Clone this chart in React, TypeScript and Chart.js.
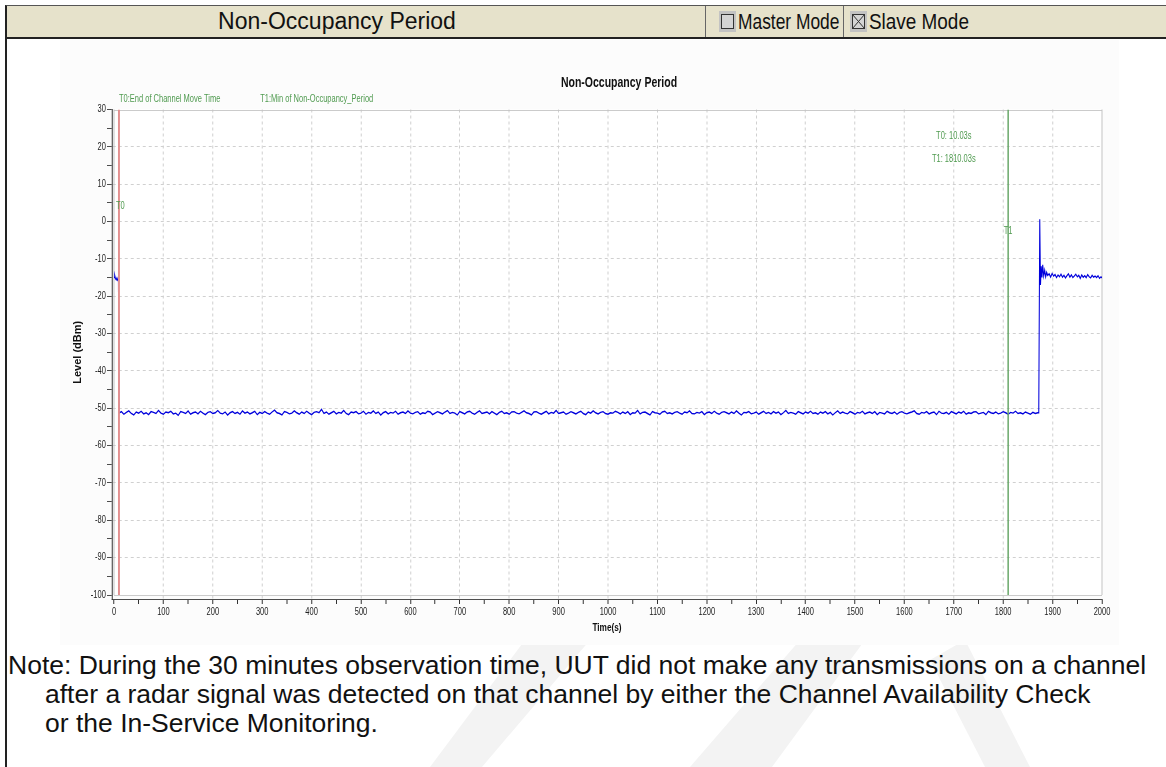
import React, { useEffect, useRef } from "react";
import { Chart, registerables } from "chart.js";

Chart.register(...registerables);

// ---------- data ----------
const chartTitle = "Non-Occupancy Period";
const xAxisTitle = "Time(s)";
const yAxisTitle = "Level (dBm)";

const xRange = [0, 2000];
const yRange = [-100, 30];

// trace before T0
const preTimes = [0, 1.5, 3, 4.5, 6, 7.5, 9];
const preLevels = [-15.0, -14.4, -15.3, -15.6, -15.1, -15.7, -15.4];

// noise floor after the channel move
const floorTimes = [
  10, 15, 20, 25, 30, 35, 40, 45, 50, 55, 60, 65, 70, 75, 80, 85, 90, 95, 100, 105,
  110, 115, 120, 125, 130, 135, 140, 145, 150, 155, 160, 165, 170, 175, 180, 185, 190, 195, 200, 205,
  210, 215, 220, 225, 230, 235, 240, 245, 250, 255, 260, 265, 270, 275, 280, 285, 290, 295, 300, 305,
  310, 315, 320, 325, 330, 335, 340, 345, 350, 355, 360, 365, 370, 375, 380, 385, 390, 395, 400, 405,
  410, 415, 420, 425, 430, 435, 440, 445, 450, 455, 460, 465, 470, 475, 480, 485, 490, 495, 500, 505,
  510, 515, 520, 525, 530, 535, 540, 545, 550, 555, 560, 565, 570, 575, 580, 585, 590, 595, 600, 605,
  610, 615, 620, 625, 630, 635, 640, 645, 650, 655, 660, 665, 670, 675, 680, 685, 690, 695, 700, 705,
  710, 715, 720, 725, 730, 735, 740, 745, 750, 755, 760, 765, 770, 775, 780, 785, 790, 795, 800, 805,
  810, 815, 820, 825, 830, 835, 840, 845, 850, 855, 860, 865, 870, 875, 880, 885, 890, 895, 900, 905,
  910, 915, 920, 925, 930, 935, 940, 945, 950, 955, 960, 965, 970, 975, 980, 985, 990, 995, 1000, 1005,
  1010, 1015, 1020, 1025, 1030, 1035, 1040, 1045, 1050, 1055, 1060, 1065, 1070, 1075, 1080, 1085, 1090, 1095, 1100, 1105,
  1110, 1115, 1120, 1125, 1130, 1135, 1140, 1145, 1150, 1155, 1160, 1165, 1170, 1175, 1180, 1185, 1190, 1195, 1200, 1205,
  1210, 1215, 1220, 1225, 1230, 1235, 1240, 1245, 1250, 1255, 1260, 1265, 1270, 1275, 1280, 1285, 1290, 1295, 1300, 1305,
  1310, 1315, 1320, 1325, 1330, 1335, 1340, 1345, 1350, 1355, 1360, 1365, 1370, 1375, 1380, 1385, 1390, 1395, 1400, 1405,
  1410, 1415, 1420, 1425, 1430, 1435, 1440, 1445, 1450, 1455, 1460, 1465, 1470, 1475, 1480, 1485, 1490, 1495, 1500, 1505,
  1510, 1515, 1520, 1525, 1530, 1535, 1540, 1545, 1550, 1555, 1560, 1565, 1570, 1575, 1580, 1585, 1590, 1595, 1600, 1605,
  1610, 1615, 1620, 1625, 1630, 1635, 1640, 1645, 1650, 1655, 1660, 1665, 1670, 1675, 1680, 1685, 1690, 1695, 1700, 1705,
  1710, 1715, 1720, 1725, 1730, 1735, 1740, 1745, 1750, 1755, 1760, 1765, 1770, 1775, 1780, 1785, 1790, 1795, 1800, 1805,
  1810, 1815, 1820, 1825, 1830, 1835, 1840, 1845, 1850, 1855, 1860, 1865, 1870,
];
const floorLevels = [
  -51.3, -50.9, -51.6, -51.1, -50.7, -51.4, -51.8, -51.0, -51.3, -50.8, -51.5, -51.2, -51.7, -50.9, -51.1, -51.4, -50.6, -51.3, -51.6, -51.0,
  -51.2, -50.8, -51.5, -51.3, -51.9, -50.9, -51.1, -51.4, -50.7, -51.6, -51.2, -51.0, -51.5, -50.8, -51.3, -51.7, -51.1, -50.9, -51.4, -51.2,
  -50.6, -51.3, -51.5, -51.0, -51.8, -51.2, -50.9, -51.4, -51.1, -51.6, -50.7, -51.3, -51.0, -51.5, -51.2, -50.8, -51.7, -51.1, -51.4, -50.9,
  -51.3, -51.6, -51.0, -50.5, -51.2, -51.4, -51.8, -50.9, -51.1, -51.5, -51.3, -50.7, -51.2, -51.6, -51.0, -51.4, -50.8, -51.3, -51.7, -51.1,
  -50.9, -51.2, -50.3, -51.4, -51.0, -51.6, -51.2, -50.8, -51.5, -51.1, -51.3, -50.6, -51.4, -51.7, -51.0, -51.2, -50.9, -51.5, -51.3, -50.8,
  -51.6, -51.1, -51.3, -50.7, -51.4, -51.0, -51.8, -51.2, -50.9, -51.5, -51.1, -51.3, -50.8, -51.6, -51.2, -51.0, -51.4, -50.7, -51.3, -51.5,
  -51.1, -50.9, -51.6, -51.2, -51.4, -50.8, -51.0, -51.7, -51.3, -50.9, -51.2, -51.5, -51.0, -50.6, -51.4, -51.1, -51.3, -51.8, -50.9, -51.2,
  -51.5, -51.0, -50.8, -51.3, -51.6, -51.1, -50.7, -51.4, -51.2, -51.0, -51.5, -50.9, -51.3, -51.7, -51.1, -50.8, -51.4, -51.2, -51.6, -51.0,
  -50.9, -51.3, -51.5, -51.1, -50.7, -51.2, -51.4, -51.8, -51.0, -50.9, -51.3, -51.6, -51.2, -50.8, -51.5, -51.1, -51.3, -50.6, -51.4, -51.2,
  -51.0, -51.6, -51.3, -50.9, -51.2, -51.5, -51.1, -50.8, -51.4, -51.7, -51.0, -51.3, -50.7, -51.2, -51.5, -51.1, -50.9, -51.4, -51.6, -51.2,
  -51.3, -50.8, -51.1, -51.5, -51.0, -51.4, -50.9, -51.7, -51.2, -51.3, -50.6, -51.5, -51.1, -51.0, -51.4, -51.8, -50.9, -51.2, -51.3, -51.6,
  -51.0, -50.8, -51.4, -51.2, -51.5, -51.1, -50.9, -51.3, -51.6, -51.0, -51.2, -50.7, -51.4, -51.5, -51.1, -51.3, -50.9, -51.7, -51.2, -51.0,
  -51.4, -50.8, -51.3, -51.6, -51.1, -50.9, -51.2, -51.5, -51.0, -51.4, -50.7, -51.3, -51.8, -51.1, -51.2, -50.9, -51.5, -51.3, -51.0, -51.6,
  -51.2, -50.8, -51.4, -51.1, -51.5, -50.9, -51.3, -51.0, -51.7, -51.2, -50.6, -51.4, -51.1, -51.3, -51.6, -50.9, -51.2, -51.5, -51.0, -51.3,
  -50.8, -51.4, -51.2, -51.6, -51.0, -51.3, -50.9, -51.5, -51.1, -51.8, -51.2, -50.7, -51.4, -51.0, -51.3, -51.5, -50.9, -51.2, -51.6, -51.1,
  -51.3, -50.8, -51.5, -51.2, -51.0, -51.4, -50.9, -51.7, -51.1, -51.3, -51.5, -50.8, -51.2, -51.4, -51.0, -51.6, -51.1, -50.9, -51.3, -51.5,
  -51.2, -51.0, -50.7, -51.4, -51.6, -51.1, -51.3, -50.9, -51.5, -51.2, -51.0, -51.7, -50.8, -51.3, -51.4, -51.1, -51.6, -50.9, -51.2, -51.5,
  -51.0, -51.3, -50.8, -51.6, -51.2, -51.4, -51.0, -50.9, -51.5, -51.3, -51.1, -51.7, -50.8, -51.2, -51.4, -51.0, -51.5, -51.3, -50.9, -51.2,
  -51.6, -51.1, -51.3, -50.8, -51.4, -51.2, -51.5, -51.0, -51.3, -51.6, -51.1, -51.4, -51.2,
];

// transmission resumes after the non-occupancy period
const postTimes = [
  1872, 1874, 1875.5, 1877, 1878.5, 1880, 1882, 1884, 1886, 1888, 1890, 1893, 1896, 1899, 1902, 1905,
  1908, 1911, 1914, 1917, 1920, 1923, 1926, 1929, 1932, 1935, 1938, 1941, 1944, 1947, 1950, 1953,
  1956, 1959, 1962, 1965, 1968, 1971, 1974, 1977, 1980, 1983, 1986, 1989, 1992, 1995, 1998, 2000,
];
const postLevels = [
  -51.2, 0.6, -17.0, -12.0, -15.0, -11.6, -14.6, -13.0, -14.8, -13.6, -14.4, -14.0, -14.9, -13.9, -14.6, -14.2,
  -15.0, -14.3, -14.8, -14.1, -14.9, -14.4, -15.1, -14.5, -14.0, -14.9, -14.3, -15.0, -14.6, -14.1, -14.8, -14.4,
  -15.2, -14.3, -14.9, -14.5, -15.0, -14.2, -14.8, -15.1, -14.4, -14.9, -14.6, -15.0, -14.5, -15.2, -14.8, -15.1,
];

// markers
const markerTimes = [10.03, 1810.03];
const markerNames = ["T0", "T1"];
const markerLabelLevels = [4, -2.5];
const markerDescriptions = ["T0:End of Channel Move Time", "T1:Min of Non-Occupancy_Period"];
const markerReadouts = ["T0: 10.03s", "T1: 1810.03s"];
const readoutTime = 1700;
const readoutLevels = [22.9, 16.6];

const noteLines = [
  "Note: During the 30 minutes observation time, UUT did not make any transmissions on a channel",
  "after a radar signal was detected on that channel by either the Channel Availability Check",
  "or the In-Service Monitoring.",
];

// ---------- styling / geometry ----------
const CHART_FONT = '"Liberation Sans", Arial, sans-serif';
const DOC_FONT = '"Liberation Sans", Arial, sans-serif';
const TRACE_COLOR = "#0000dc";
const MARKER_COLORS = ["#e28f8f", "#6aa86a"];
const LABEL_GREEN = "#4f9a4f";
const GRID_COLOR = "#d0d0d0";
const FRAME_COLOR = "#c4c4c4";
const AXIS_COLOR = "#333333";
const SQUEEZE = 0.75; // the source chart image is horizontally condensed
const CANVAS_W = 1412;
const CANVAS_H = 605;
// axes sit slightly detached from the plot frame, as in the source
const X_MIN_VIEW = -4.05;
const Y_MIN_VIEW = -101.07;

function buildTrace() {
  const times = [...preTimes, ...floorTimes, ...postTimes];
  const levels = [...preLevels, ...floorLevels, ...postLevels];
  return times.map((t, i) => ({ x: t, y: levels[i] }));
}

const annotationPlugin = {
  id: "nopAnnotations",
  beforeDraw(chart: any) {
    const { ctx, scales } = chart;
    // condense the whole drawing horizontally (vector level, text stays crisp)
    ctx.save();
    ctx.scale(SQUEEZE, 1);
    const x0 = scales.x.getPixelForValue(xRange[0]);
    const x1 = scales.x.getPixelForValue(xRange[1]);
    const y0 = scales.y.getPixelForValue(yRange[1]);
    const y1 = scales.y.getPixelForValue(yRange[0]);
    ctx.save();
    ctx.fillStyle = "#fcfcfc";
    ctx.fillRect(0, 0, chart.width, chart.height);
    ctx.fillStyle = "#ffffff";
    ctx.fillRect(x0, y0, x1 - x0, y1 - y0);
    ctx.restore();
  },
  beforeDatasetsDraw(chart: any) {
    const { ctx, scales } = chart;
    const x0 = scales.x.getPixelForValue(xRange[0]);
    const x1 = scales.x.getPixelForValue(xRange[1]);
    const y0 = scales.y.getPixelForValue(yRange[1]);
    const y1 = scales.y.getPixelForValue(yRange[0]);
    ctx.save();
    ctx.strokeStyle = FRAME_COLOR;
    ctx.lineWidth = 1;
    ctx.beginPath();
    ctx.moveTo(x0, Math.round(y0) + 0.5);
    ctx.lineTo(x1, Math.round(y0) + 0.5);
    ctx.moveTo(x0, Math.round(y1) + 0.5);
    ctx.lineTo(x1, Math.round(y1) + 0.5);
    ctx.stroke();
    ctx.lineWidth = 1 / SQUEEZE;
    ctx.beginPath();
    ctx.moveTo(x0, y0);
    ctx.lineTo(x0, y1);
    ctx.moveTo(x1, y0);
    ctx.lineTo(x1, y1);
    ctx.stroke();
    ctx.restore();
  },
  afterDatasetsDraw(chart: any) {
    const { ctx, chartArea, scales } = chart;
    const xs = scales.x;
    const ys = scales.y;
    const plotTop = ys.getPixelForValue(yRange[1]);
    const plotBottom = ys.getPixelForValue(yRange[0]);
    ctx.save();
    // chart title
    ctx.fillStyle = "#111";
    ctx.textAlign = "center";
    ctx.textBaseline = "middle";
    ctx.font = `bold 14px ${CHART_FONT}`;
    ctx.fillText(chartTitle, (chartArea.left + chartArea.right) / 2 + 16, plotTop - 26);

    // marker texts
    ctx.fillStyle = LABEL_GREEN;
    ctx.font = `10px ${CHART_FONT}`;
    ctx.textAlign = "left";
    ctx.fillText(markerDescriptions[0], xs.getPixelForValue(markerTimes[0]), plotTop - 10);
    ctx.fillText(markerDescriptions[1], xs.getPixelForValue(xRange[0]) + 195, plotTop - 10);
    ctx.fillText(markerNames[0], xs.getPixelForValue(markerTimes[0]) - 4, ys.getPixelForValue(markerLabelLevels[0]));
    ctx.textAlign = "center";
    ctx.fillText(markerNames[1], xs.getPixelForValue(markerTimes[1]), ys.getPixelForValue(markerLabelLevels[1]));
    ctx.fillText(markerReadouts[0], xs.getPixelForValue(readoutTime), ys.getPixelForValue(readoutLevels[0]));
    ctx.fillText(markerReadouts[1], xs.getPixelForValue(readoutTime), ys.getPixelForValue(readoutLevels[1]));
    ctx.restore();

    // y axis title (kept upright-proportioned despite the horizontal squeeze)
    ctx.save();
    ctx.fillStyle = "#111";
    ctx.font = `bold 11px ${CHART_FONT}`;
    ctx.textAlign = "center";
    ctx.textBaseline = "middle";
    ctx.translate(24, (plotTop + plotBottom) / 2);
    ctx.scale(1 / SQUEEZE, 1);
    ctx.rotate(-Math.PI / 2);
    ctx.fillText(yAxisTitle, 0, 0);
    ctx.restore();
  },
  afterDraw(chart: any) {
    chart.ctx.restore();
  },
};

function NopChart() {
  const ref = useRef<HTMLCanvasElement | null>(null);
  useEffect(() => {
    if (!ref.current) return;
    const markerSets = markerTimes.map((t, i) => ({
      label: markerNames[i],
      data: [
        { x: t, y: yRange[0] },
        { x: t, y: yRange[1] },
      ],
      borderColor: MARKER_COLORS[i],
      borderWidth: i === 0 ? 2.6 : 2,
      pointRadius: 0,
      tension: 0,
    }));
    const chart = new Chart(ref.current, {
      type: "line",
      data: {
        datasets: [
          ...markerSets,
          {
            label: "Level",
            data: buildTrace(),
            borderColor: TRACE_COLOR,
            borderWidth: 1.4,
            pointRadius: 0,
            tension: 0,
          },
        ],
      },
      options: {
        animation: false,
        responsive: true,
        maintainAspectRatio: false,
        layout: { padding: { left: 0, right: CANVAS_W - (1102 - 60) / SQUEEZE, top: 69.5, bottom: 5 } },
        plugins: {
          legend: { display: false },
          tooltip: { enabled: false },
          title: { display: false },
        },
        scales: {
          x: {
            type: "linear",
            min: X_MIN_VIEW,
            max: xRange[1],
            afterFit: (s: any) => {
              s.height = 41;
            },
            ticks: {
              stepSize: 50,
              includeBounds: false,
              autoSkip: false,
              maxRotation: 0,
              padding: 2,
              color: "#222",
              font: { family: CHART_FONT, size: 10 },
              callback: (v: any) => (Number(v) % 100 === 0 ? String(v) : ""),
            },
            grid: {
              color: (c: any) =>
                c.tick && c.tick.value % 100 === 0 && c.tick.value > xRange[0] && c.tick.value < xRange[1]
                  ? GRID_COLOR
                  : "rgba(0,0,0,0)",
              lineWidth: 1 / SQUEEZE,
              tickColor: (c: any) => (c.tick && c.tick.value % 50 === 0 ? AXIS_COLOR : "rgba(0,0,0,0)"),
              tickWidth: 1 / SQUEEZE,
              tickLength: 5,
              tickBorderDash: [],
            },
            border: { display: true, color: AXIS_COLOR, width: 1, dash: [3, 3] },
            title: {
              display: true,
              text: xAxisTitle,
              color: "#111",
              font: { family: CHART_FONT, size: 11, weight: "bold" },
              padding: { top: 0, bottom: 5 },
            },
          },
          y: {
            type: "linear",
            min: Y_MIN_VIEW,
            max: yRange[1],
            afterFit: (s: any) => {
              s.width = (112 - 60) / SQUEEZE;
            },
            ticks: {
              stepSize: 5,
              includeBounds: false,
              autoSkip: false,
              padding: 1.5,
              color: "#222",
              font: { family: CHART_FONT, size: 10 },
              callback: (v: any) => (Number(v) % 10 === 0 ? String(v) : ""),
            },
            grid: {
              color: (c: any) =>
                c.tick && c.tick.value % 10 === 0 && c.tick.value > yRange[0] && c.tick.value < yRange[1]
                  ? GRID_COLOR
                  : "rgba(0,0,0,0)",
              tickColor: (c: any) => (c.tick && c.tick.value % 5 === 0 ? AXIS_COLOR : "rgba(0,0,0,0)"),
              tickLength: 5 / SQUEEZE,
              tickBorderDash: [],
            },
            border: { display: true, color: AXIS_COLOR, width: 1 / SQUEEZE, dash: [4, 4] },
            title: { display: false },
          },
        },
      },
      plugins: [annotationPlugin],
    });
    return () => chart.destroy();
  }, []);
  return <canvas ref={ref} />;
}

function CheckBox({ checked }: { checked: boolean }) {
  return (
    <svg width={17} height={21} style={{ display: "block" }}>
      <rect x={0} y={0} width={17} height={21} fill="#c3c3c3" />
      <rect x={2.5} y={3.5} width={12} height={14} fill="#d4d4d4" stroke="#333" strokeWidth={1} />
      {checked && (
        <g stroke="#333" strokeWidth={1}>
          <line x1={2.5} y1={3.5} x2={14.5} y2={17.5} />
          <line x1={14.5} y1={3.5} x2={2.5} y2={17.5} />
        </g>
      )}
    </svg>
  );
}

export default function App() {
  const headerText: React.CSSProperties = {
    position: "absolute",
    top: 0,
    height: 31,
    lineHeight: "31px",
    fontSize: 22,
    color: "#111",
    whiteSpace: "nowrap",
  };
  return (
    <div
      style={{
        position: "fixed",
        left: 0,
        top: 0,
        width: 1166,
        height: 767,
        background: "#ffffff",
        overflow: "hidden",
        fontFamily: DOC_FONT,
      }}
    >
      {/* faint watermark */}
      <svg width={1166} height={767} style={{ position: "absolute", left: 0, top: 0 }}>
        <polygon points="525,640 590,640 482,767 430,767" fill="#f3f3f3" />
        <polygon points="800,640 865,640 772,767 690,767" fill="#f3f3f3" />
        <polygon points="930,660 965,640 1030,767 985,767" fill="#f3f3f3" />
      </svg>

      {/* header row */}
      <div
        style={{
          position: "absolute",
          left: 5,
          top: 5,
          width: 1161,
          height: 31,
          background: "#e6e2cb",
          borderTop: "1px solid #555",
          borderBottom: "2px solid #222",
          borderLeft: "2px solid #222",
          boxSizing: "content-box",
        }}
      >
        <div style={{ ...headerText, left: 0, width: 660, textAlign: "center", fontSize: 23 }}>
          Non-Occupancy Period
        </div>
        <div style={{ position: "absolute", left: 698, top: 0, width: 1, height: 31, background: "#666" }} />
        <div style={{ position: "absolute", left: 712, top: 5 }}>
          <CheckBox checked={false} />
        </div>
        <div style={{ ...headerText, left: 731, transform: "scaleX(0.79)", transformOrigin: "0 0" }}>Master Mode</div>
        <div style={{ position: "absolute", left: 836, top: 0, width: 1, height: 31, background: "#666" }} />
        <div style={{ position: "absolute", left: 843, top: 5 }}>
          <CheckBox checked={true} />
        </div>
        <div style={{ ...headerText, left: 862, transform: "scaleX(0.86)", transformOrigin: "0 0" }}>Slave Mode</div>
      </div>

      {/* left table border */}
      <div style={{ position: "absolute", left: 5, top: 38, width: 2, height: 729, background: "#222" }} />

      {/* chart: laid out wide, drawn condensed into the visible window */}
      <div
        style={{
          position: "absolute",
          left: 60,
          top: 40,
          width: Math.round(CANVAS_W * SQUEEZE),
          height: CANVAS_H,
          overflow: "hidden",
        }}
      >
        <div style={{ position: "relative", width: CANVAS_W, height: CANVAS_H }}>
          <NopChart />
        </div>
      </div>

      {/* note */}
      {noteLines.map((line, i) => (
        <div
          key={i}
          style={{
            position: "absolute",
            left: i === 0 ? 8 : 45,
            top: 651 + i * 29,
            fontSize: 26.5,
            lineHeight: "29px",
            color: "#111",
            whiteSpace: "nowrap",
          }}
        >
          {line}
        </div>
      ))}
    </div>
  );
}
